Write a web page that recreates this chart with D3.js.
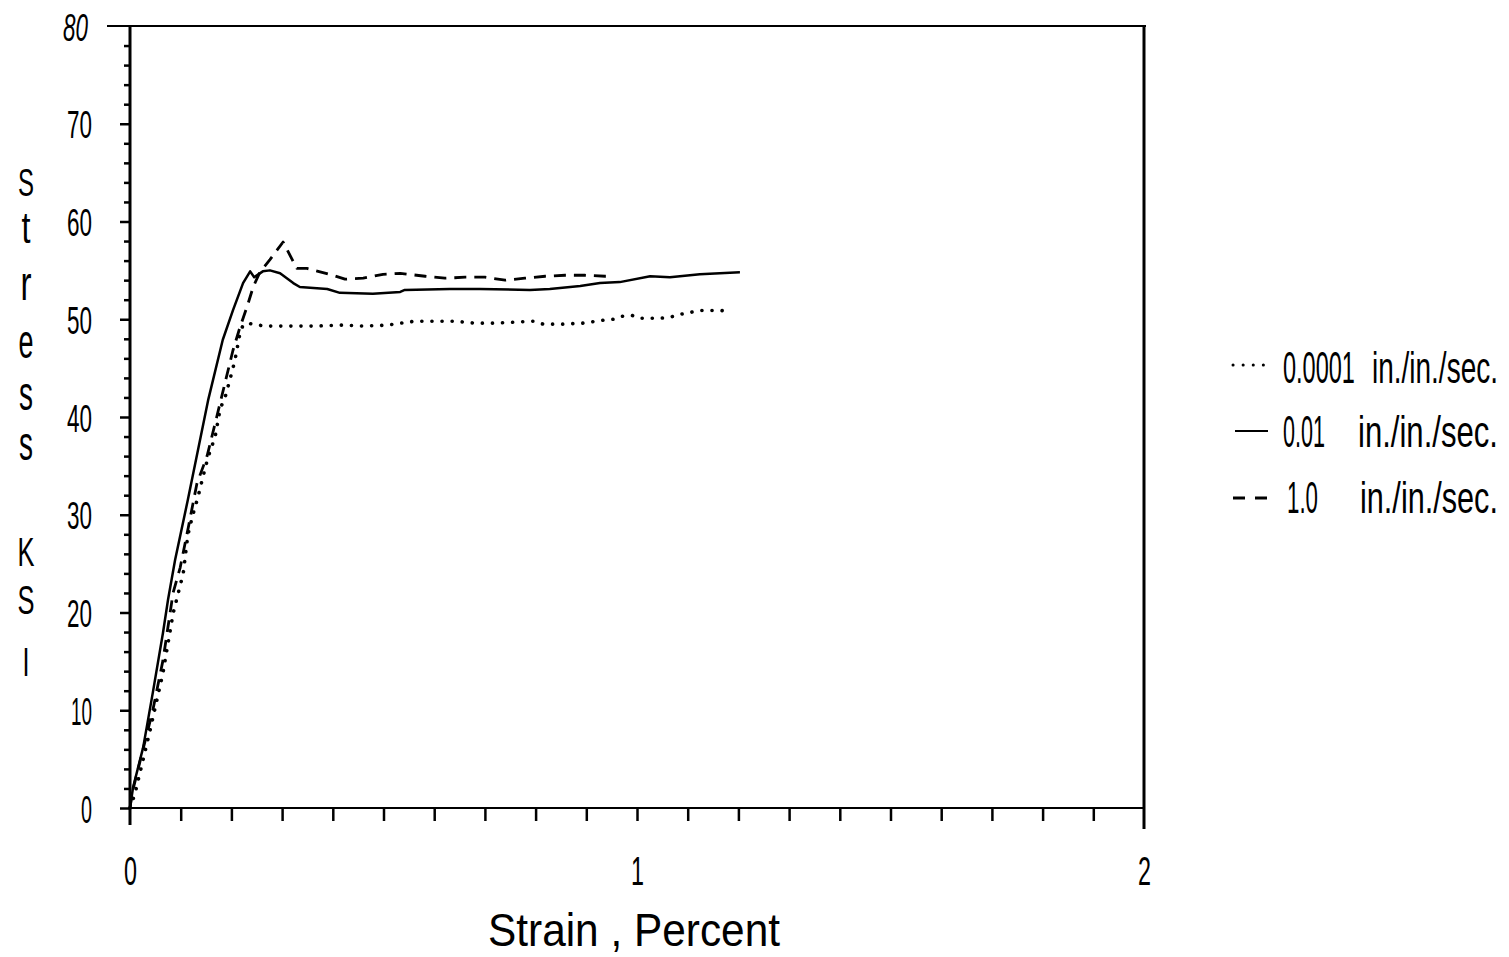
<!DOCTYPE html>
<html>
<head>
<meta charset="utf-8">
<script src="https://cdn.jsdelivr.net/npm/d3@7"></script>
<style>
  html, body { margin: 0; padding: 0; background: #fff; }
  svg { display: block; }
  text { font-family: "Liberation Sans", Arial, sans-serif; fill: #000; }
</style>
</head>
<body>
<svg id="chart" width="1509" height="957"></svg>
<script>
// ---------------- data ----------------
const slowStrain = [0, 0.010, 0.039, 0.065, 0.085, 0.105, 0.114, 0.124, 0.134, 0.144, 0.154, 0.168, 0.178, 0.187, 0.197, 0.207, 0.217, 0.223, 0.231, 0.266, 0.31, 0.361, 0.42, 0.46, 0.507, 0.562, 0.602, 0.641, 0.68, 0.72, 0.759, 0.795, 0.815, 0.854, 0.893, 0.933, 0.953, 0.970, 0.99, 1.006, 1.026, 1.045, 1.065, 1.085, 1.105, 1.124, 1.144, 1.164, 1.183];
const slowStress = [0, 1.5, 7.8, 13.8, 19.9, 24.0, 27.9, 30.0, 31.8, 33.9, 35.9, 38.0, 40.9, 41.9, 43.8, 45.8, 48.6, 49.4, 49.6, 49.3, 49.3, 49.3, 49.4, 49.3, 49.4, 49.8, 49.8, 49.8, 49.6, 49.6, 49.7, 49.8, 49.5, 49.5, 49.6, 49.9, 50.0, 50.3, 50.4, 50.1, 50.1, 50.1, 50.2, 50.5, 50.7, 50.9, 50.9, 50.9, 50.8];

const midStrain = [0, 0.006, 0.026, 0.045, 0.065, 0.075, 0.089, 0.114, 0.154, 0.183, 0.203, 0.223, 0.237, 0.245, 0.262, 0.276, 0.296, 0.322, 0.335, 0.389, 0.414, 0.479, 0.533, 0.542, 0.631, 0.69, 0.789, 0.828, 0.888, 0.927, 0.966, 1.026, 1.065, 1.124, 1.203];
const midStress = [0, 2.1, 6.2, 11.8, 17.9, 21.3, 25.4, 31.5, 41.7, 47.9, 50.9, 53.7, 54.9, 54.3, 54.9, 55.0, 54.7, 53.7, 53.3, 53.1, 52.7, 52.6, 52.8, 53.0, 53.1, 53.1, 53.0, 53.1, 53.4, 53.7, 53.8, 54.4, 54.3, 54.6, 54.8];

const fastStrain = [0, 0.004, 0.045, 0.065, 0.085, 0.099, 0.115, 0.132, 0.152, 0.171, 0.187, 0.203, 0.217, 0.231, 0.243, 0.256, 0.276, 0.302, 0.32, 0.329, 0.349, 0.4, 0.424, 0.46, 0.499, 0.533, 0.582, 0.621, 0.661, 0.7, 0.74, 0.779, 0.819, 0.858, 0.897, 0.937, 0.947];
const fastStress = [0, 1.5, 10.0, 15.1, 22.0, 24.6, 28.7, 33.2, 36.0, 40.0, 43.4, 46.8, 49.2, 51.3, 53.3, 54.8, 56.1, 57.9, 56.1, 55.2, 55.2, 54.5, 54.1, 54.2, 54.6, 54.7, 54.4, 54.2, 54.3, 54.3, 54.0, 54.2, 54.4, 54.5, 54.5, 54.4, 54.4];

const xMajorTicks = [0, 1, 2];
const yMajorTicks = [0, 10, 20, 30, 40, 50, 60, 70, 80];
const legendRates = ["0.0001", "0.01", "1.0"];
const legendUnit = "in./in./sec.";
const xTitle = "Strain , Percent";
const yTitleLetters = ["S", "t", "r", "e", "s", "s", "K", "S", "I"];

// ---------------- helpers ----------------
// squeeze a text horizontally to a target width, anchored at (ax, ay) with given anchor
function fitText(sel, ax, ay, target, anchor) {
  sel.attr("x", 0).attr("y", 0).attr("text-anchor", "start").attr("dy", null);
  const node = sel.node();
  const w = node.getComputedTextLength();
  if (target == null) target = w;
  const s = target / w;
  let tx = ax;
  if (anchor === "middle") tx = ax - target / 2;
  else if (anchor === "end") tx = ax - target;
  sel.attr("transform", `translate(${tx},${ay}) scale(${s},1)`);
}

// ---------------- chart ----------------
const svg = d3.select("#chart");
const x = d3.scaleLinear().domain([0, 2]).range([130, 1144]);
const y = d3.scaleLinear().domain([0, 80]).range([808, 26]);

// frame
const frame = svg.append("g").attr("stroke", "#000").attr("fill", "none");
frame.append("line").attr("x1", 107).attr("x2", 1146).attr("y1", y(80)).attr("y2", y(80)).attr("stroke-width", 2);
frame.append("line").attr("x1", x(0)).attr("x2", x(2)).attr("y1", y(0)).attr("y2", y(0)).attr("stroke-width", 2);
frame.append("line").attr("x1", x(0)).attr("x2", x(0)).attr("y1", y(80)).attr("y2", 825).attr("stroke-width", 3);
frame.append("line").attr("x1", x(2)).attr("x2", x(2)).attr("y1", y(80)).attr("y2", 829).attr("stroke-width", 3);

function styleAxis(g) {
  g.select(".domain").remove();
  g.selectAll(".tick line").attr("stroke", "#000").attr("stroke-width", 2.5);
}

// y minor ticks
svg.append("g").attr("transform", `translate(${x(0)},0)`)
  .call(d3.axisLeft(y).tickValues(d3.range(2, 80, 2).filter(v => v % 10 !== 0)).tickSize(6).tickFormat(""))
  .call(styleAxis);
// y major ticks + labels
svg.append("g").attr("transform", `translate(${x(0)},0)`)
  .call(d3.axisLeft(y).tickValues(yMajorTicks).tickSize(10).tickPadding(30).tickFormat(d3.format("d")))
  .call(styleAxis)
  .call(g => g.selectAll(".tick").filter(d => d === 80).select("line").remove())
  .call(g => g.selectAll("text").each(function (d) {
    const t = d3.select(this)
      .attr("font-size", 39).attr("fill", "#000").attr("font-family", "Liberation Sans, Arial, sans-serif")
      .attr("font-style", d === 80 ? "italic" : null);
    fitText(t, d === 80 ? -42 : -38, 14, String(d).length === 1 ? 11 : (d === 10 ? 21 : 25), "end");
  }));

// x minor ticks
svg.append("g").attr("transform", `translate(0,${y(0)})`)
  .call(d3.axisBottom(x).tickValues(d3.range(1, 20).map(i => i / 10)).tickSize(13).tickFormat(""))
  .call(styleAxis);
// x labels
svg.append("g").attr("transform", `translate(0,${y(0)})`)
  .call(d3.axisBottom(x).tickValues(xMajorTicks).tickSize(0).tickFormat(d3.format("d")))
  .call(styleAxis)
  .call(g => g.selectAll("text").each(function () {
    const t = d3.select(this)
      .attr("font-size", 41).attr("fill", "#000").attr("font-family", "Liberation Sans, Arial, sans-serif");
    fitText(t, 0, 77, 13, "middle");
  }));

// axis titles
fitText(svg.append("text").attr("font-size", 46).text(xTitle), 634, 946, 292, "middle");

const yLetterPos = [
  {b: 196, fs: 38, w: 16}, {b: 243, fs: 44, w: 9}, {b: 300, fs: 48, w: 11}, {b: 358, fs: 48, w: 15},
  {b: 410, fs: 48, w: 14}, {b: 460, fs: 48, w: 14}, {b: 566, fs: 40, w: 17}, {b: 614, fs: 40, w: 17}, {b: 676, fs: 40, w: 7}
];
const yt = svg.append("g");
yTitleLetters.forEach((L, i) => {
  const p = yLetterPos[i];
  fitText(yt.append("text").attr("font-size", p.fs).text(L), 26, p.b, p.w, "middle");
});

// ---------------- series ----------------
const zip = (a, b) => a.map((v, i) => [v, b[i]]);
const line = d3.line().x(d => x(d[0])).y(d => y(d[1]));

const series = [
  {data: zip(slowStrain, slowStress), dash: "0.1 10", width: 3.6, cap: "round"},
  {data: zip(midStrain, midStress), dash: null, width: 2.5, cap: "butt"},
  {data: zip(fastStrain, fastStress), dash: "12 8", width: 2.8, cap: "butt"}
];
svg.append("g").selectAll("path").data(series).join("path")
  .attr("d", d => line(d.data))
  .attr("fill", "none").attr("stroke", "#000")
  .attr("stroke-width", d => d.width)
  .attr("stroke-linecap", d => d.cap)
  .attr("stroke-linejoin", "round")
  .attr("stroke-dasharray", d => d.dash);

// ---------------- legend ----------------
const legendRows = [
  {ly: 365, base: 383, rateX: 1283, rateW: 72, unitX: 1372, unitW: 126},
  {ly: 431, base: 447, rateX: 1283, rateW: 42, unitX: 1358, unitW: 140},
  {ly: 498, base: 513, rateX: 1287, rateW: 31, unitX: 1360, unitW: 138}
];
const leg = svg.append("g");
legendRows.forEach((r, i) => {
  const s = series[i];
  leg.append("line").attr("x1", i === 1 ? 1235 : 1233).attr("x2", i === 1 ? 1268 : (i === 0 ? 1264 : 1267))
    .attr("y1", r.ly).attr("y2", r.ly)
    .attr("stroke", "#000").attr("stroke-width", i === 1 ? 2 : (i === 0 ? 3 : s.width))
    .attr("stroke-linecap", s.cap)
    .attr("stroke-dasharray", i === 2 ? "12 10" : s.dash);
  fitText(leg.append("text").attr("font-size", 44).text(legendRates[i]), r.rateX, r.base, r.rateW, "start");
  fitText(leg.append("text").attr("font-size", 44).text(legendUnit), r.unitX, r.base, r.unitW, "start");
});
</script>
</body>
</html>
